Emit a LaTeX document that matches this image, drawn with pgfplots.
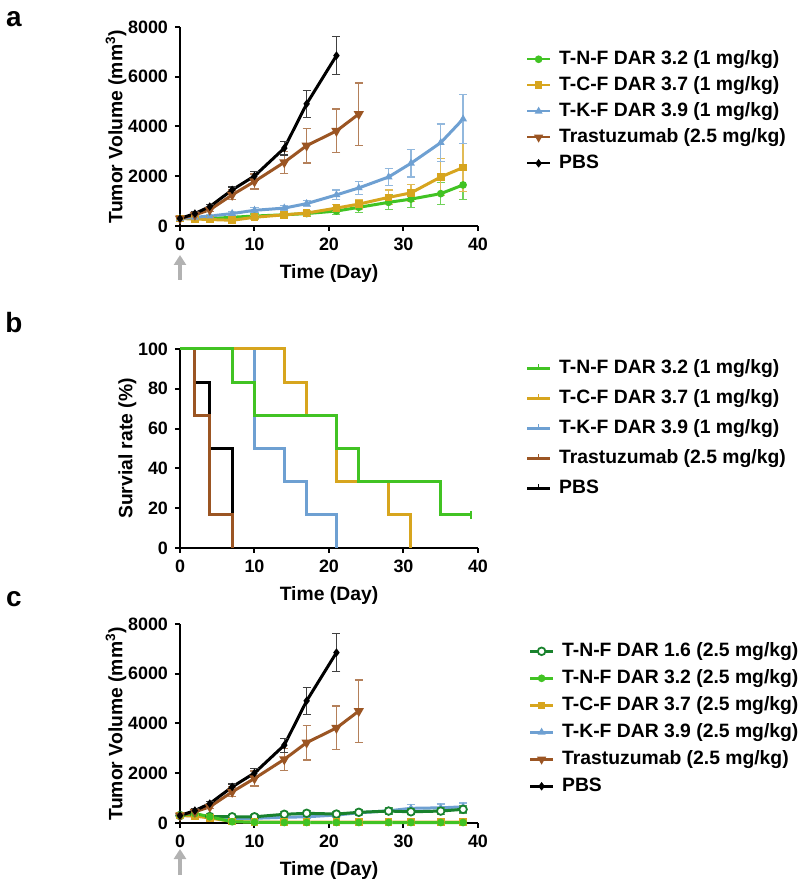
\documentclass[border=0pt]{standalone}
\usepackage{pgfplots}
\pgfplotsset{compat=1.18}
\usepackage{fontspec}
\setmainfont{Liberation Sans}
\usetikzlibrary{arrows.meta}

\definecolor{cG}{RGB}{65,195,35}
\definecolor{cDG}{RGB}{25,130,45}
\definecolor{cO}{RGB}{215,165,30}
\definecolor{cB}{RGB}{110,160,210}
\definecolor{cBr}{RGB}{155,85,35}

\pgfplotsset{
  base/.style={
    scale only axis, width=149bp, height=99.5bp,
    axis lines=left, axis line style={-, line width=1bp},
    tick align=outside, major tick length=2.5bp,
    tick style={line width=1bp, black},
    xmin=0, xmax=40, xtick={0,10,20,30,40},
    /pgf/number format/assume math mode=true,
    /pgf/number format/set thousands separator={},
    scaled y ticks=false,
    ticklabel style={font=\fontsize{9}{10}\selectfont\bfseries},
    label style={font=\fontsize{9.7}{11}\selectfont\bfseries},
    ylabel style={yshift=-6bp},
    xlabel={Time (Day)},
    clip=false,
    legend cell align=left,
    legend style={draw=none, fill=none, font=\fontsize{9.7}{11}\selectfont\bfseries,
      nodes={inner sep=0pt, text height=7bp, text depth=2bp},
      column sep=4bp},
    legend image code/.code={
      \draw[mark repeat=2, mark phase=2, #1, line width=1.2bp]
        plot coordinates {(0cm,0cm) (0.2cm,0cm) (0.4cm,0cm)};},
  },
  ser/.style 2 args={color=#1, line width=1.5bp, mark=#2, mark size=1.5bp,
    mark options={solid, fill=#1, line width=0.8bp}},
  eb/.style={error bars/y dir=both, error bars/y explicit,
    error bars/error bar style={line width=0.6bp, #1!75},
    error bars/error mark options={rotate=90, mark size=2bp, line width=0.6bp, #1!75}},
  sv/.style={color=#1, line width=1.5bp, const plot mark left, forget plot},
  opencirc/.style={color=cDG, line width=1.5bp, mark=*, mark size=1.9bp,
    mark options={solid, fill=white, draw=cDG, line width=0.9bp}},
}

\begin{document}
\begin{tikzpicture}
\useasboundingbox (0,0) rectangle (400bp,442.5bp);

% ---------------- panel a ----------------
\node[font=\fontsize{14}{16}\selectfont\bfseries] at (7bp,433bp) {a};
\begin{axis}[base, at={(90bp,329.5bp)}, anchor=south west,
  ymin=0, ymax=8000, ytick={0,2000,4000,6000,8000},
  ylabel={Tumor Volume (mm\textsuperscript{3})},
  legend style={at={(1.14,0.905)}, anchor=north west, row sep=4bp}]
\addplot[ser={cG}{*}, eb=cG] coordinates {
 (0,300)+-(0,50) (2,310)+-(0,50) (4,300)+-(0,50) (7,350)+-(0,60) (10,400)+-(0,80)
 (14,450)+-(0,80) (17,500)+-(0,100) (21,600)+-(0,150) (24,750)+-(0,200)
 (28,950)+-(0,300) (31,1080)+-(0,350) (35,1300)+-(0,450) (38,1650)+-(0,600)};
\addplot[ser={cO}{square*}, eb=cO] coordinates {
 (0,300)+-(0,50) (2,280)+-(0,50) (4,260)+-(0,50) (7,230)+-(0,50) (10,350)+-(0,80)
 (14,450)+-(0,100) (17,520)+-(0,100) (21,720)+-(0,150) (24,880)+-(0,200)
 (28,1150)+-(0,300) (31,1330)+-(0,350) (35,1970)+-(0,750) (38,2350)+-(0,950)};
\addplot[ser={cB}{triangle*}, eb=cB] coordinates {
 (0,300)+-(0,50) (2,350)+-(0,50) (4,400)+-(0,60) (7,500)+-(0,80) (10,630)+-(0,100)
 (14,720)+-(0,100) (17,900)+-(0,120) (21,1250)+-(0,200) (24,1530)+-(0,250)
 (28,1970)+-(0,350) (31,2520)+-(0,550) (35,3350)+-(0,750) (38,4300)+-(0,1000)};
\addplot[ser={cBr}{triangle*}, mark options={rotate=180}, eb=cBr] coordinates {
 (0,300)+-(0,50) (2,450)+-(0,60) (4,650)+-(0,80) (7,1250)+-(0,200) (10,1790)+-(0,300)
 (14,2560)+-(0,450) (17,3230)+-(0,700) (21,3820)+-(0,880) (24,4500)+-(0,1250)};
\addplot[ser={black}{diamond*}, eb=black] coordinates {
 (0,300)+-(0,50) (2,500)+-(0,60) (4,780)+-(0,80) (7,1450)+-(0,120) (10,2010)+-(0,180)
 (14,3130)+-(0,280) (17,4910)+-(0,550) (21,6850)+-(0,770)};
\legend{T-N-F DAR 3.2 (1 mg/kg), T-C-F DAR 3.7 (1 mg/kg), T-K-F DAR 3.9 (1 mg/kg),
  Trastuzumab (2.5 mg/kg), PBS}
\draw[black!30, line width=2.2bp, -{Triangle[width=6bp,length=5bp]}]
  ([yshift=-27bp]axis cs:0,0) -- ([yshift=-14.5bp]axis cs:0,0);
\end{axis}

% ---------------- panel b ----------------
\node[font=\fontsize{14}{16}\selectfont\bfseries] at (7bp,281bp) {b};
\begin{axis}[base, at={(90bp,168.5bp)}, anchor=south west,
  ymin=0, ymax=100, ytick={0,20,40,60,80,100},
  ylabel={Survial rate (\%)},
  legend style={at={(1.14,0.97)}, anchor=north west, row sep=6bp},
  legend image code/.code={
      \draw[#1, line width=1.2bp] (0cm,0cm) -- (0.4cm,0cm);
      \draw[#1, line width=0.8bp] (0.2cm,0cm) -- (0.2cm,2bp);}]
\addlegendimage{color=cG}
\addlegendimage{color=cO}
\addlegendimage{color=cB}
\addlegendimage{color=cBr}
\addlegendimage{color=black}
\addplot[sv=black] coordinates {(0,100) (2,83.3) (4,50) (7,0)};
\addplot[sv=cBr] coordinates {(0,100) (2,66.7) (4,16.7) (7,0)};
\addplot[sv=cB] coordinates {(0,100) (10,50) (14,33.3) (17,16.7) (21,0)};
\addplot[sv=cO] coordinates {(0,100) (14,83.3) (17,66.7) (21,33.3) (28,16.7) (31,0)};
\addplot[sv=cG] coordinates {(0,100) (7,83.3) (10,66.7) (21,50) (24,33.3) (35,16.7) (39,16.7)};
\addplot[cG, only marks, mark=|, mark size=2bp, line width=1bp, forget plot] coordinates {(39,16.7)};
\legend{T-N-F DAR 3.2 (1 mg/kg), T-C-F DAR 3.7 (1 mg/kg), T-K-F DAR 3.9 (1 mg/kg),
  Trastuzumab (2.5 mg/kg), PBS}
\end{axis}

% ---------------- panel c ----------------
\node[font=\fontsize{14}{16}\selectfont\bfseries] at (7bp,143bp) {c};
\begin{axis}[base, at={(90bp,31bp)}, anchor=south west,
  ymin=0, ymax=8000, ytick={0,2000,4000,6000,8000},
  ylabel={Tumor Volume (mm\textsuperscript{3})},
  legend style={at={(1.15,0.93)}, anchor=north west, row sep=4.5bp}]
\addlegendimage{opencirc}
\addlegendimage{ser={cG}{*}}
\addlegendimage{ser={cO}{square*}}
\addlegendimage{ser={cB}{triangle*}}
\addlegendimage{ser={cBr}{triangle*}, mark options={rotate=180}}
\addlegendimage{ser={black}{diamond*}}
\addplot[ser={cB}{triangle*}, eb=cB, forget plot] coordinates {
 (0,300)+-(0,50) (2,300)+-(0,50) (4,250)+-(0,60) (7,150)+-(0,60) (10,190)+-(0,80)
 (14,230)+-(0,80) (17,250)+-(0,80) (21,320)+-(0,100) (24,410)+-(0,100)
 (28,490)+-(0,120) (31,590)+-(0,150) (35,610)+-(0,150) (38,650)+-(0,150)};
\addplot[opencirc, eb=cDG, forget plot] coordinates {
 (0,300)+-(0,50) (2,330)+-(0,60) (4,260)+-(0,60) (7,250)+-(0,80) (10,250)+-(0,80)
 (14,350)+-(0,100) (17,390)+-(0,100) (21,360)+-(0,100) (24,430)+-(0,100)
 (28,480)+-(0,120) (31,450)+-(0,120) (35,480)+-(0,150) (38,550)+-(0,150)};
\addplot[ser={cO}{square*}, eb=cO, forget plot] coordinates {
 (0,300)+-(0,40) (2,280)+-(0,50) (4,200)+-(0,50) (7,60)+-(0,30) (10,40)+-(0,20)
 (14,40)+-(0,20) (17,40)+-(0,20) (21,40)+-(0,20) (24,40)+-(0,20)
 (28,40)+-(0,20) (31,40)+-(0,20) (35,40)+-(0,20) (38,40)+-(0,20)};
\addplot[ser={cG}{*}, eb=cG, forget plot] coordinates {
 (0,300)+-(0,40) (2,380)+-(0,50) (4,250)+-(0,50) (7,50)+-(0,30) (10,30)+-(0,20)
 (14,20)+-(0,20) (17,20)+-(0,20) (21,20)+-(0,20) (24,20)+-(0,20)
 (28,20)+-(0,20) (31,20)+-(0,20) (35,20)+-(0,20) (38,20)+-(0,20)};
\addplot[ser={cBr}{triangle*}, mark options={rotate=180}, eb=cBr, forget plot] coordinates {
 (0,300)+-(0,50) (2,450)+-(0,60) (4,650)+-(0,80) (7,1250)+-(0,200) (10,1790)+-(0,300)
 (14,2560)+-(0,450) (17,3230)+-(0,700) (21,3820)+-(0,880) (24,4500)+-(0,1250)};
\addplot[ser={black}{diamond*}, eb=black, forget plot] coordinates {
 (0,300)+-(0,50) (2,500)+-(0,60) (4,780)+-(0,80) (7,1450)+-(0,120) (10,2010)+-(0,180)
 (14,3130)+-(0,280) (17,4910)+-(0,550) (21,6850)+-(0,770)};
\legend{T-N-F DAR 1.6 (2.5 mg/kg), T-N-F DAR 3.2 (2.5 mg/kg), T-C-F DAR 3.7 (2.5 mg/kg),
  T-K-F DAR 3.9 (2.5 mg/kg), Trastuzumab (2.5 mg/kg), PBS}
\draw[black!30, line width=2.2bp, -{Triangle[width=6bp,length=5bp]}]
  ([yshift=-26bp]axis cs:0,0) -- ([yshift=-13bp]axis cs:0,0);
\end{axis}
\end{tikzpicture}
\end{document}
